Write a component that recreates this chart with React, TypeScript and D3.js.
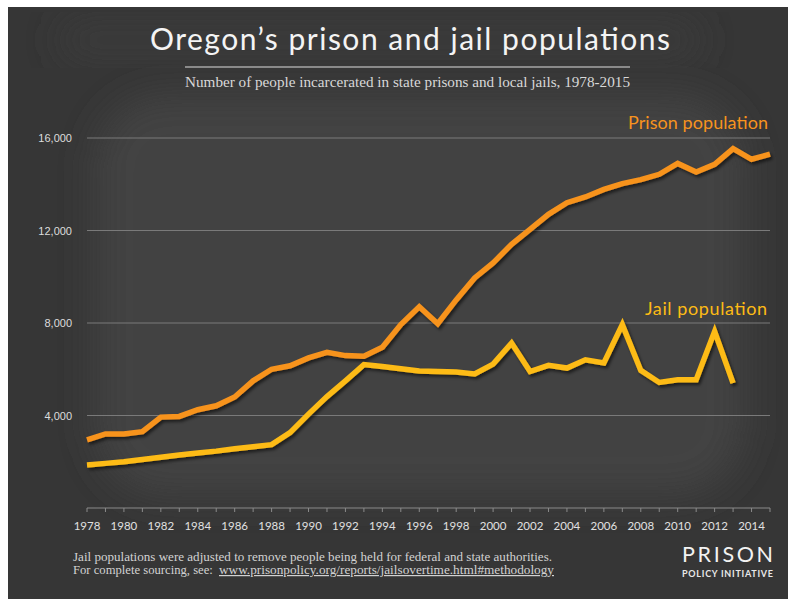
import React from "react";
import * as d3 from "d3";

const prisonYears: number[] = d3.range(1978, 2016);
const prisonValues: number[] = [
  2950, 3200, 3200, 3300, 3930, 3960, 4250, 4420, 4800, 5500, 6000, 6150, 6490,
  6730, 6590, 6560, 6950, 7930, 8700, 7970, 9000, 9950, 10600, 11400, 12050,
  12700, 13200, 13450, 13780, 14030, 14200, 14430, 14900, 14530, 14860, 15540,
  15080, 15300,
];
const jailYears: number[] = d3.range(1978, 2014);
const jailValues: number[] = [
  1860, 1930, 2000, 2100, 2190, 2290, 2380, 2460, 2560, 2650, 2740, 3260, 4060,
  4820, 5500, 6200, 6120, 6020, 5920, 5900, 5880, 5800, 6220, 7130, 5900, 6170,
  6050, 6410, 6270, 7930, 5950, 5430, 5550, 5550, 7640, 5400,
];
const yTicks: number[] = [4000, 8000, 12000, 16000];
const xLabelYears: number[] = d3.range(1978, 2015, 2);

const title = "Oregon\u2019s prison and jail populations";
const subtitle =
  "Number of people incarcerated in state prisons and local jails, 1978-2015";
const note1 =
  "Jail populations were adjusted to remove people being held for federal and state authorities.";
const note2a = "For complete sourcing, see: ";
const note2b = "www.prisonpolicy.org/reports/jailsovertime.html#methodology";

const PRISON_COLOR = "#f7931e";
const JAIL_COLOR = "#fdbb15";

export default function App() {
  const W = 788;
  const H = 599;
  const x = d3.scaleLinear().domain([1978, 2015]).range([87, 770]);
  const y = d3.scaleLinear().domain([0, 16000]).range([508, 138]);

  const line = d3
    .line<[number, number]>()
    .x((d) => x(d[0]))
    .y((d) => y(d[1]));

  const prisonPath = line(prisonYears.map((yr, i) => [yr, prisonValues[i]]));
  const jailPath = line(jailYears.map((yr, i) => [yr, jailValues[i]]));

  const futura = "Lato, 'Open Sans', sans-serif";
  const serif = "'Liberation Serif', 'DejaVu Serif', serif";

  return (
    <svg
      width={W}
      height={H}
      style={{ position: "absolute", left: 0, top: 0 }}
      xmlns="http://www.w3.org/2000/svg"
    >
      <defs>
        <filter id="blurBg" x="-20%" y="-20%" width="140%" height="140%">
          <feGaussianBlur stdDeviation="18" />
        </filter>
        <filter id="shadow" x="-10%" y="-10%" width="120%" height="130%">
          <feDropShadow dx="2" dy="2.5" stdDeviation="1.5" floodColor="#000" floodOpacity="0.55" />
        </filter>
      </defs>
      <rect x={0} y={0} width={W} height={H} fill="#ffffff" />
      <rect x={8} y={7} width={W - 8} height={H - 7} fill="#363636" />
      <rect
        x={95}
        y={95}
        width={650}
        height={400}
        rx={70}
        fill="#424242"
        filter="url(#blurBg)"
      />
      <rect x={60} y={20} width={640} height={40} rx={20} fill="#3a3a3a" filter="url(#blurBg)" />

      {/* Title */}
      <text
        x={150}
        y={50}
        fontFamily={futura}
        fontSize={30}
        fill="#f4f4f4"
        textLength={520}
        lengthAdjust="spacing"
      >
        {title}
      </text>
      <line x1={185} x2={630} y1={67} y2={67} stroke="#8a8a8a" strokeWidth={2} />
      <text
        x={185}
        y={87}
        fontFamily={serif}
        fontSize={14}
        fill="#d8d8d8"
        textLength={445}
        lengthAdjust="spacingAndGlyphs"
      >
        {subtitle}
      </text>

      {/* Gridlines */}
      {yTicks.map((t) => (
        <g key={t}>
          <line x1={87} x2={770} y1={y(t)} y2={y(t)} stroke="#7a7a7a" strokeWidth={1} />
          <text
            x={72}
            y={y(t) + 4}
            textAnchor="end"
            fontFamily="'Liberation Sans', Arial, sans-serif"
            fontSize={11}
            fill="#dddddd"
          >
            {d3.format(",")(t)}
          </text>
        </g>
      ))}

      {/* X axis */}
      <line x1={87} x2={770} y1={508} y2={508} stroke="#8a8a8a" strokeWidth={1} />
      {d3.range(1978, 2016).map((yr) => (
        <line key={yr} x1={x(yr)} x2={x(yr)} y1={508} y2={512} stroke="#8a8a8a" strokeWidth={1} />
      ))}
      {xLabelYears.map((yr) => (
        <text
          key={yr}
          x={x(yr)}
          y={530}
          textAnchor="middle"
          fontFamily={futura}
          fontSize={11.5}
          fill="#e0e0e0"
        >
          {yr}
        </text>
      ))}

      {/* Lines */}
      <path
        d={prisonPath || ""}
        fill="none"
        stroke={PRISON_COLOR}
        strokeWidth={5.5}
        strokeLinejoin="miter"
        filter="url(#shadow)"
      />
      <path
        d={jailPath || ""}
        fill="none"
        stroke={JAIL_COLOR}
        strokeWidth={5.5}
        strokeLinejoin="miter"
        filter="url(#shadow)"
      />

      {/* Series labels */}
      <text
        x={768}
        y={129}
        textAnchor="end"
        fontFamily={futura}
        fontSize={18}
        fill={PRISON_COLOR}
        textLength={140}
        lengthAdjust="spacing"
      >
        Prison population
      </text>
      <text
        x={767}
        y={315}
        textAnchor="end"
        fontFamily={futura}
        fontSize={18}
        fill={JAIL_COLOR}
        textLength={122}
        lengthAdjust="spacing"
      >
        Jail population
      </text>

      {/* Footer */}
      <text x={73} y={561} fontFamily={serif} fontSize={12} fill="#d2d2d2" textLength={479} lengthAdjust="spacingAndGlyphs">
        {note1}
      </text>
      <text x={73} y={574} fontFamily={serif} fontSize={12} fill="#d2d2d2">
        <tspan x={73} textLength={143} lengthAdjust="spacingAndGlyphs">{note2a}</tspan>
        <tspan
          x={219}
          textLength={335}
          lengthAdjust="spacingAndGlyphs"
          textDecoration="underline"
          style={{ textDecoration: "underline" }}
        >
          {note2b}
        </tspan>
      </text>

      {/* Logo */}
      <text
        x={682}
        y={562}
        fontFamily={futura}
        fontSize={21.5}
        fill="#f2f2f2"
        textLength={91}
        lengthAdjust="spacing"
      >
        PRISON
      </text>
      <text
        x={682}
        y={577}
        fontFamily={futura}
        fontSize={9}
        fontWeight={700}
        fill="#e8e8e8"
        textLength={91}
        lengthAdjust="spacing"
      >
        POLICY INITIATIVE
      </text>
    </svg>
  );
}
